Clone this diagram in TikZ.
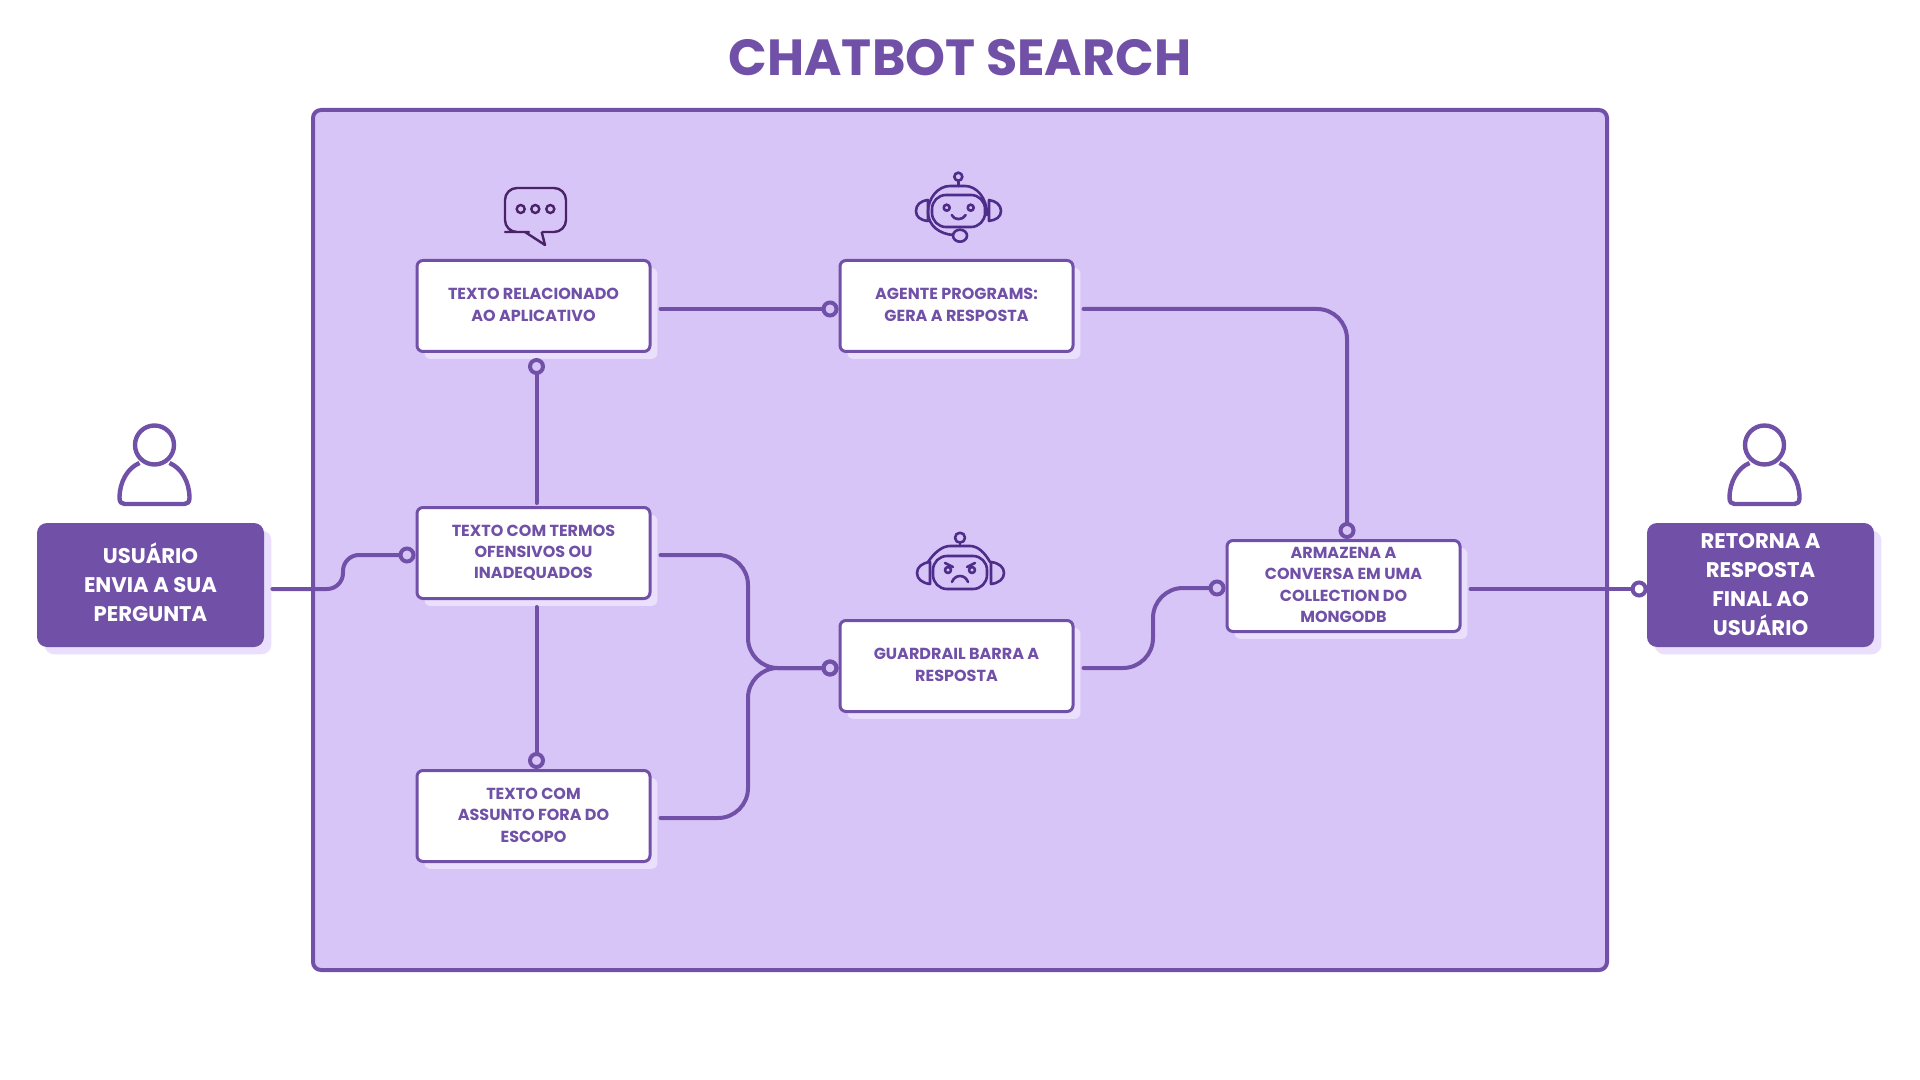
\documentclass[tikz,border=0pt]{standalone}
\usepackage{xcolor}
\usepackage{fontspec}
\setmainfont{Poppins}
\usetikzlibrary{arrows.meta,calc,shadows}
\definecolor{CBPurple}{HTML}{7150A8}
\definecolor{CBPanel} {HTML}{D8C5F8}
\definecolor{CBShade} {HTML}{EADFFD}
\definecolor{CBIcon}  {HTML}{4D2C8A}
\definecolor{CBBubble}{HTML}{4A2268}
\tikzset{
    boxshade/.style={general shadow={fill=CBShade,shadow xshift=3.7pt,shadow yshift=-3.7pt}},
    stepbox/.style={boxshade,draw=CBPurple,line width=1.5pt,fill=white,rounded corners=3pt,
        minimum width=116.5pt,minimum height=45.5pt,inner sep=0pt,align=center,text=CBPurple,
        text depth=1.1pt,font=\fontsize{8}{10.7}\selectfont\bfseries},
    userbox/.style={boxshade,fill=CBPurple,rounded corners=5pt,minimum width=113.5pt,
        minimum height=62pt,inner sep=0pt,align=center,text=white,
        font=\fontsize{10.6}{14.5}\selectfont\bfseries},
    wire/.style={draw=CBPurple,line width=2pt,line cap=round,rounded corners=15pt},
    wiretip/.style={wire,-{Circle[open,length=8.5pt,line width=2pt,sep=0pt]}},
    iconline/.style={draw=CBIcon,line width=1.3pt,line join=round,line cap=round},
    usericon/.pic={
        \draw[draw=CBPurple,line width=2.2pt] (0,0) circle[radius=19.5];
        \draw[draw=CBPurple,line width=2.2pt,line join=round]
            (-15,18) .. controls (-27,23) and (-35,37) .. (-35,53)
            .. controls (-35,57) and (-33,59) .. (-30,59) -- (30,59)
            .. controls (33,59) and (35,57) .. (35,53)
            .. controls (35,37) and (27,23) .. (15,18);
    }
}
\begin{document}
\begin{tikzpicture}[x=0.5pt,y=-0.5pt]
    \useasboundingbox (0,0) rectangle (1920,1080);
    \node[draw=CBPurple,line width=2pt,fill=CBPanel,rounded corners=4pt,minimum width=647pt,
        minimum height=430pt,inner sep=0pt] (panel) at (960,540) {};
    \node[font=\fontsize{25.4}{30}\selectfont\bfseries,text=CBPurple] (title) at (960,58) {CHATBOT SEARCH};

    \node[userbox,text depth=3.2pt] (usuario) at (150.5,585) {USUÁRIO\\ENVIA A SUA\\PERGUNTA};
    \node[userbox] (retorna) at (1760.5,585) {RETORNA A\\RESPOSTA\\FINAL AO\\USUÁRIO};
    \node[stepbox] (relacionado) at (533.5,306) {TEXTO RELACIONADO\\AO APLICATIVO};
    \node[stepbox] (agente) at (956.5,306) {AGENTE PROGRAMS:\\GERA A RESPOSTA};
    \node[stepbox] (termos) at (533.5,553) {TEXTO COM TERMOS\\OFENSIVOS OU\\INADEQUADOS};
    \node[stepbox] (assunto) at (533.5,816) {TEXTO COM\\ASSUNTO FORA DO\\ESCOPO};
    \node[stepbox] (guardrail) at (956.5,666) {GUARDRAIL BARRA A\\RESPOSTA};
    \node[stepbox] (armazena) at (1343.5,586) {ARMAZENA A\\CONVERSA EM UMA\\COLLECTION DO\\MONGODB};

    \coordinate (bendUser) at (343,555);
    \coordinate (bendJoin) at (748,668);
    \coordinate (bendStore) at (1153,588);

    \draw[wiretip,rounded corners=8pt] ($(usuario.east)+(8,4)$) -| (bendUser) -- ($(termos.west)+(0,2)$);
    \draw[wiretip] ($(relacionado.east)+(9,3)$) -- ($(agente.west)+(0,3)$);
    \draw[wiretip] ($(agente.east)+(9,3)$) -| ($(armazena.north)+(3.5,0)$);
    \draw[wiretip] ($(termos.north)+(3,-3)$) -- ($(relacionado.south)+(3,5)$);
    \draw[wiretip] ($(termos.south)+(3,7)$) -- ($(assunto.north)+(3,0)$);
    \draw[wiretip] ($(termos.east)+(9,2)$) -| (bendJoin) -- ($(guardrail.west)+(0,2)$);
    \draw[wiretip] ($(assunto.east)+(9,2)$) -| (bendJoin) -- ($(guardrail.west)+(0,2)$);
    \draw[wiretip] ($(guardrail.east)+(9,2)$) -| (bendStore) -- ($(armazena.west)+(0,2)$);
    \draw[wiretip] ($(armazena.east)+(9,3)$) -- ($(retorna.west)+(1,4)$);

    \pic at (154.5,445) {usericon};
    \pic at (1764.5,445) {usericon};

    % speech bubble
    \draw[draw=CBBubble,line width=1.2pt,line join=round,rounded corners=6pt]
        (525,232) -- (517,232) -- (505,232) -- (505,188) -- (566,188) -- (566,232) -- (541.7,232);
    \draw[draw=CBBubble,line width=1.2pt,line join=round] (525,232) -- (545,245) -- (541.7,232);
    \foreach \x in {520.7,535.3,550.3}
        \draw[draw=CBBubble,line width=1.2pt] (\x,209) circle[radius=4];

    % happy robot
    \draw[iconline] (958.3,176.7) circle[radius=4];
    \draw[iconline] (958.3,180.7) -- (958.3,186);
    \draw[iconline] (987,215) .. controls (987,197) and (976,186) .. (965,186) -- (950,186)
        .. controls (938,186) and (928,198) .. (928,212) .. controls (928,226) and (940,234) .. (953,235);
    \draw[iconline,rounded corners=7pt] (932,195) rectangle (985,227);
    \draw[iconline] (946.7,207.7) circle[radius=3];
    \draw[iconline] (970.7,207.7) circle[radius=3];
    \draw[iconline] (951.7,215) .. controls (954,220.5) and (963,220.5) .. (965.7,215);
    \draw[iconline] (960,235.7) ellipse[x radius=7,y radius=6];
    \draw[iconline] (928,200) .. controls (920,201) and (916,205) .. (916,211)
        .. controls (916,217) and (920,220) .. (928,221) -- cycle;
    \draw[iconline] (989,200) .. controls (996,201) and (1001,205) .. (1001,211)
        .. controls (1001,217) and (996,220) .. (989,221) -- cycle;

    % angry robot
    \draw[iconline] (960,537.7) circle[radius=5];
    \draw[iconline] (960,542.7) -- (960,546);
    \draw[iconline] (990,562) .. controls (985,553) and (978,546) .. (970,546) -- (950,546)
        .. controls (942,546) and (934,553) .. (928,562);
    \draw[iconline,rounded corners=7pt] (933,556) rectangle (987,589);
    \draw[iconline] (948,570) circle[radius=3];
    \draw[iconline] (972,570) circle[radius=3];
    \draw[iconline] (945,563) -- (953,567);
    \draw[iconline] (975,563) -- (967,567);
    \draw[iconline] (952,582) .. controls (955,574) and (965,574) .. (968,582);
    \draw[iconline] (930,562) .. controls (922,563) and (917,567) .. (917,573)
        .. controls (917,579) and (922,583) .. (930,584) -- cycle;
    \draw[iconline] (991,562) .. controls (999,563) and (1004,567) .. (1004,573)
        .. controls (1004,579) and (999,583) .. (991,584) -- cycle;
\end{tikzpicture}
\end{document}
